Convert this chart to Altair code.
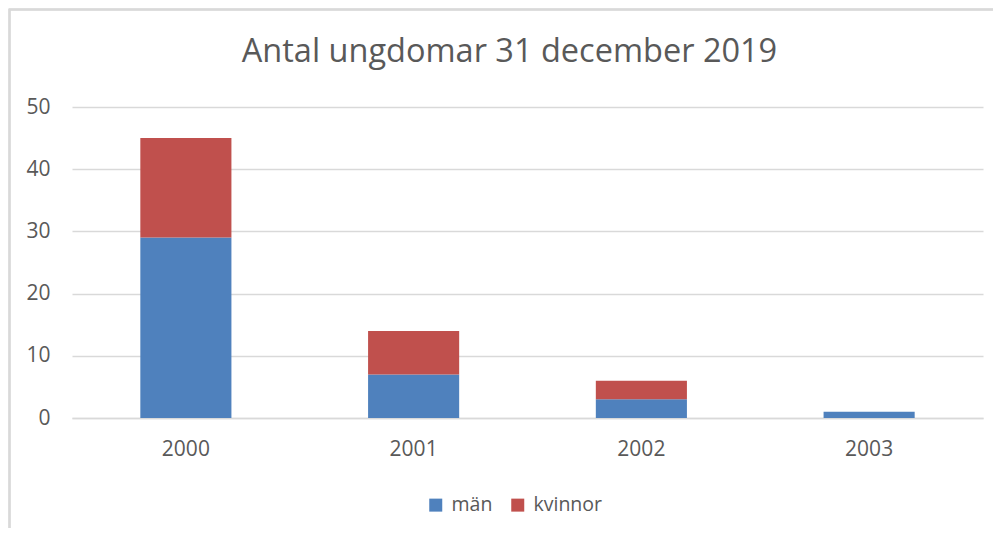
import altair as alt
import pandas as pd

years = ["2000", "2001", "2002", "2003"]
man = [29, 7, 3, 1]
kvinnor = [16, 7, 3, 0]
series = ["män", "kvinnor"]
colors = ["#4F81BD", "#C0504D"]

rows = []
for i, y in enumerate(years):
    rows.append({"year": y, "kon": "män", "antal": man[i], "ord": 0})
    rows.append({"year": y, "kon": "kvinnor", "antal": kvinnor[i], "ord": 1})
df = pd.DataFrame(rows)

FONT = "Open Sans"
GRAY = "#595959"

bars = alt.Chart(df).mark_bar().encode(
    x=alt.X("year:N", title=None,
            scale=alt.Scale(paddingInner=0.6, paddingOuter=0.3),
            axis=alt.Axis(labelAngle=0, ticks=False, domain=True, domainColor="#d9d9d9",
                          domainWidth=1.3, labelPadding=20, labelFontSize=21,
                          labelColor=GRAY, labelFont=FONT)),
    y=alt.Y("antal:Q", title=None, stack="zero",
            scale=alt.Scale(domain=[0, 50], nice=False),
            axis=alt.Axis(values=[0, 10, 20, 30, 40, 50], ticks=False, domain=False,
                          gridColor="#d9d9d9", gridWidth=1.3, labelPadding=22,
                          labelFontSize=21, labelColor=GRAY, labelFont=FONT)),
    color=alt.Color("kon:N", scale=alt.Scale(domain=series, range=colors),
                    legend=alt.Legend(title=None, orient="none", direction="horizontal",
                                      legendX=354, legendY=388, symbolType="square",
                                      symbolSize=169, symbolStrokeWidth=0,
                                      labelFontSize=19.5, labelColor=GRAY, labelFont=FONT,
                                      labelOffset=6, columnPadding=15)),
    order=alt.Order("ord:Q"),
)

border = alt.Chart(df).mark_rect(fill=None, stroke="#d9d9d9", strokeWidth=1.5).encode(
    x=alt.value(-62.5), x2=alt.value(960), y=alt.value(-97.5), y2=alt.value(500)
)

chart = alt.layer(border, bars).properties(
    width=911, height=311,
    title=alt.Title("Antal ungdomar 31 december 2019", fontSize=32.5, font=FONT,
                    fontWeight="normal", color=GRAY, anchor="middle", dx=-18,
                    frame="group", baseline="alphabetic", offset=-86),
    autosize=alt.AutoSizeParams(type="none"),
    padding={"left": 64, "top": 99, "right": 10, "bottom": 110},
).configure_view(stroke=None)

chart.save("out.html", embed_options={"renderer": "svg", "actions": False})
